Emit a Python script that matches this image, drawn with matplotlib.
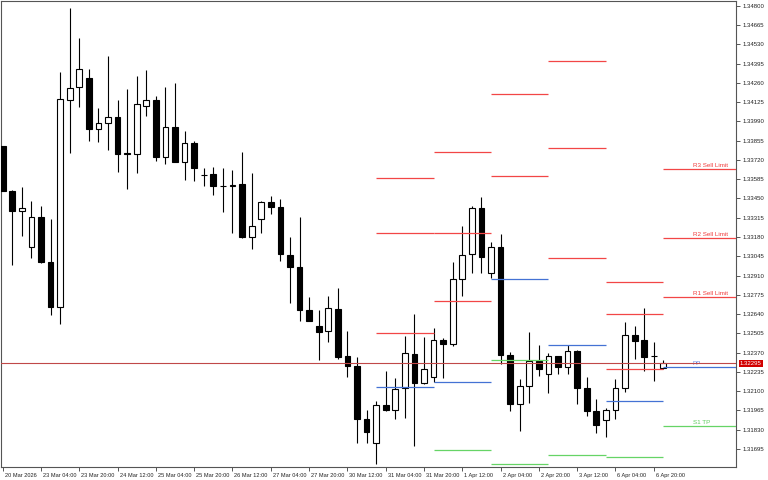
import matplotlib
matplotlib.use("Agg")
import matplotlib.pyplot as plt
from matplotlib.transforms import ScaledTranslation, blended_transform_factory
import numpy as np

plt.rcParams['font.family'] = ['Liberation Sans', 'DejaVu Sans']

# ---------------- data (GBPUSD-like H4 candles) ----------------
opens = [
    1.33819, 1.33504, 1.33364, 1.33112, 1.33322, 1.33007, 1.32687, 1.34142, 1.34228, 1.34294,
    1.33934, 1.33976, 1.34018, 1.33766, 1.33763, 1.34095, 1.34139, 1.33742, 1.33952, 1.33707,
    1.33836, 1.33617, 1.33619, 1.33538, 1.33537, 1.33549, 1.33178, 1.33304, 1.33423, 1.33388,
    1.33056, 1.32968, 1.32666, 1.32558, 1.32523, 1.32673, 1.32348, 1.32278, 1.31905, 1.31735,
    1.32001, 1.31968, 1.32120, 1.32362, 1.32155, 1.32199, 1.32458, 1.32428, 1.32883, 1.33059,
    1.33381, 1.32925, 1.33112, 1.32355, 1.32012, 1.32138, 1.32311, 1.32220, 1.32344, 1.32267,
    1.32381, 1.32124, 1.31963, 1.31900, 1.31968, 1.32124, 1.32495, 1.32456, 1.32345, 1.32260]
highs = [
    1.33820, 1.33506, 1.33528, 1.33430, 1.33395, 1.33306, 1.34333, 1.34782, 1.34572, 1.34356,
    1.34081, 1.34446, 1.34139, 1.34214, 1.34308, 1.34347, 1.34165, 1.34231, 1.34261, 1.33920,
    1.33850, 1.33663, 1.33672, 1.33663, 1.33649, 1.33773, 1.33626, 1.33432, 1.33467, 1.33446,
    1.33178, 1.33318, 1.32757, 1.32671, 1.32766, 1.32820, 1.32523, 1.32339, 1.31968, 1.32031,
    1.32243, 1.32192, 1.32484, 1.32638, 1.32477, 1.32542, 1.32470, 1.33005, 1.33259, 1.33397,
    1.33458, 1.33143, 1.33201, 1.32372, 1.32183, 1.32512, 1.32423, 1.32369, 1.32348, 1.32423,
    1.32386, 1.32197, 1.32043, 1.31980, 1.32183, 1.32586, 1.32556, 1.32682, 1.32442, 1.32320]
lows = [
    1.33500, 1.32984, 1.33189, 1.33030, 1.33000, 1.32633, 1.32568, 1.33766, 1.34088, 1.33854,
    1.33845, 1.33791, 1.33637, 1.33514, 1.33630, 1.34029, 1.33710, 1.33689, 1.33705, 1.33577,
    1.33572, 1.33537, 1.33476, 1.33355, 1.33210, 1.33175, 1.33094, 1.33210, 1.33341, 1.33014,
    1.32715, 1.32593, 1.32590, 1.32318, 1.32446, 1.32323, 1.32201, 1.31735, 1.31739, 1.31592,
    1.31961, 1.31903, 1.31914, 1.31718, 1.32152, 1.32164, 1.32190, 1.32414, 1.32766, 1.32925,
    1.32925, 1.32890, 1.32290, 1.31963, 1.31819, 1.32019, 1.32206, 1.32085, 1.32218, 1.32220,
    1.32008, 1.31926, 1.31809, 1.31779, 1.31903, 1.32092, 1.32325, 1.32241, 1.32173, 1.32258]
closes = [
    1.33502, 1.33362, 1.33381, 1.33318, 1.33005, 1.32687, 1.34144, 1.34226, 1.34354, 1.33936,
    1.33976, 1.34018, 1.33761, 1.33764, 1.34109, 1.34139, 1.33742, 1.33952, 1.33707, 1.33836,
    1.33661, 1.33615, 1.33539, 1.33536, 1.33543, 1.33178, 1.33257, 1.33423, 1.33390, 1.33061,
    1.32968, 1.32668, 1.32593, 1.32516, 1.32680, 1.32341, 1.32278, 1.31903, 1.31812, 1.32001,
    1.31968, 1.32115, 1.32367, 1.32155, 1.32253, 1.32460, 1.32428, 1.32883, 1.33052, 1.33381,
    1.33042, 1.33112, 1.32355, 1.32012, 1.32138, 1.32311, 1.32255, 1.32344, 1.32267, 1.32379,
    1.32122, 1.31963, 1.31863, 1.31968, 1.32124, 1.32491, 1.32453, 1.32341, 1.32343, 1.32295]

bid_price = 1.32295

xtick_bars = [0, 4, 8, 12, 16, 20, 24, 28, 32, 36, 40, 44, 48, 52, 56, 60, 64, 68]
xtick_labels = ["20 Mar 2026", "23 Mar 04:00", "23 Mar 20:00", "24 Mar 12:00",
                "25 Mar 04:00", "25 Mar 20:00", "26 Mar 12:00", "27 Mar 04:00",
                "27 Mar 20:00", "30 Mar 12:00", "31 Mar 04:00", "31 Mar 20:00",
                "1 Apr 12:00", "2 Apr 04:00", "2 Apr 20:00", "3 Apr 12:00",
                "6 Apr 04:00", "6 Apr 20:00"]

ytick_vals = [1.34800, 1.34665, 1.34530, 1.34395, 1.34260, 1.34125, 1.33990, 1.33855,
              1.33720, 1.33585, 1.33450, 1.33315, 1.33180, 1.33045, 1.32910, 1.32775,
              1.32640, 1.32505, 1.32370, 1.32235, 1.32100, 1.31965, 1.31830, 1.31695]

# daily pivot levels (first bar of each day)
pivot_days = ["31 Mar", "1 Apr", "2 Apr", "3 Apr", "6 Apr", "7 Apr"]
day_first_bar = [39, 45, 51, 57, 63, 69]
R3 = [1.33593, 1.33773, None, 1.34415, 1.32865, 1.33658]
R2 = [1.33206, 1.33208, 1.34179, 1.33805, 1.32642, 1.33173]
R1 = [1.32505, 1.32729, 1.33609, 1.33030, 1.32252, 1.32757]
PP = [1.32127, 1.32162, 1.32886, 1.32421, 1.32031, 1.32267]
S1 = [None, 1.31688, 1.32316, 1.31651, 1.31641, 1.31856]
S2 = [None, None, 1.31590, None, None, None]
last_day_labels = {"R3": "R3 Sell Limit", "R2": "R2 Sell Limit", "R1": "R1 Sell Limit",
                   "PP": "PP", "S1": "S1 TP"}

# ---------------- figure ----------------
W, H = 768, 480
fig = plt.figure(figsize=(W / 100, H / 100), dpi=100)
fig.patch.set_facecolor('white')
ax = fig.add_axes([1 / W, 13 / H, 735 / W, 466 / H])
ax.set_facecolor('white')

xlim = (-0.178, 76.586)
ax.set_xlim(*xlim)
ax.set_ylim(1.315686, 1.348329)

x = np.arange(len(opens))
o = np.array(opens); c = np.array(closes)
h = np.array(highs); l = np.array(lows)
bull = c >= o
body_bottom = np.minimum(o, c)
body_h = np.maximum(np.abs(c - o), 0.000004)

ax.vlines(x, l, h, color='black', lw=0.8, zorder=2)
ax.bar(x[bull], body_h[bull], bottom=body_bottom[bull], width=0.6,
       facecolor='white', edgecolor='black', lw=0.8, zorder=3)
ax.bar(x[~bull], body_h[~bull], bottom=body_bottom[~bull], width=0.6,
       facecolor='black', edgecolor='black', lw=0.8, zorder=3)

# pivot segments
colors = {"R3": '#f24646', "R2": '#f24646', "R1": '#f24646',
          "PP": '#4472d4', "S1": '#66d466', "S2": '#66d466'}
text_colors = {"R3": '#f03c3c', "R2": '#f03c3c', "R1": '#f03c3c',
               "PP": '#5a7fe0', "S1": '#5ccc5c'}
levels = {"R3": R3, "R2": R2, "R1": R1, "PP": PP, "S1": S1, "S2": S2}
ends = day_first_bar[1:] + [xlim[1]]
for name, vals in levels.items():
    for i, v in enumerate(vals):
        if v is None:
            continue
        ax.hlines(v, day_first_bar[i], ends[i], color=colors[name], lw=0.9, zorder=4)
        if i == len(vals) - 1 and name in last_day_labels:
            ax.annotate(last_day_labels[name], xy=(day_first_bar[i], v),
                        xytext=(29.5, 2), textcoords='offset pixels',
                        ha='left', va='baseline', fontsize=4.5,
                        color=text_colors[name], zorder=5)

# bid line
ax.axhline(bid_price, color='#c04848', lw=0.8, zorder=5)

# axes styling
for s in ax.spines.values():
    s.set_color('#555555')
    s.set_linewidth(0.8)

ax.yaxis.tick_right()
ax.set_yticks(ytick_vals)
ax.set_yticklabels([f"{v:.5f}" for v in ytick_vals])
ax.tick_params(axis='y', direction='out', length=3, width=0.7, colors='#555555',
               labelsize=4.3, labelcolor='#222222', pad=2)

ax.set_xticks(xtick_bars)
ax.set_xticklabels(xtick_labels)
ax.tick_params(axis='x', direction='out', length=3, width=0.7, colors='#555555',
               labelsize=4.1, labelcolor='#222222', pad=1.5)
offset = ScaledTranslation(2 / 100, 0, fig.dpi_scale_trans)
for lab in ax.get_xticklabels():
    lab.set_horizontalalignment('left')
    lab.set_transform(lab.get_transform() + offset)

# bid price box
tr = blended_transform_factory(ax.transAxes, ax.transData)
ax.text(1.0 + 4 / 735, bid_price, f"{bid_price:.5f}", transform=tr,
        ha='left', va='center', fontsize=4.3, color='white', zorder=10,
        bbox=dict(boxstyle='square,pad=0.2', fc='#d20000', ec='none'),
        clip_on=False)

fig.savefig("out.png", dpi=100, facecolor='white')
